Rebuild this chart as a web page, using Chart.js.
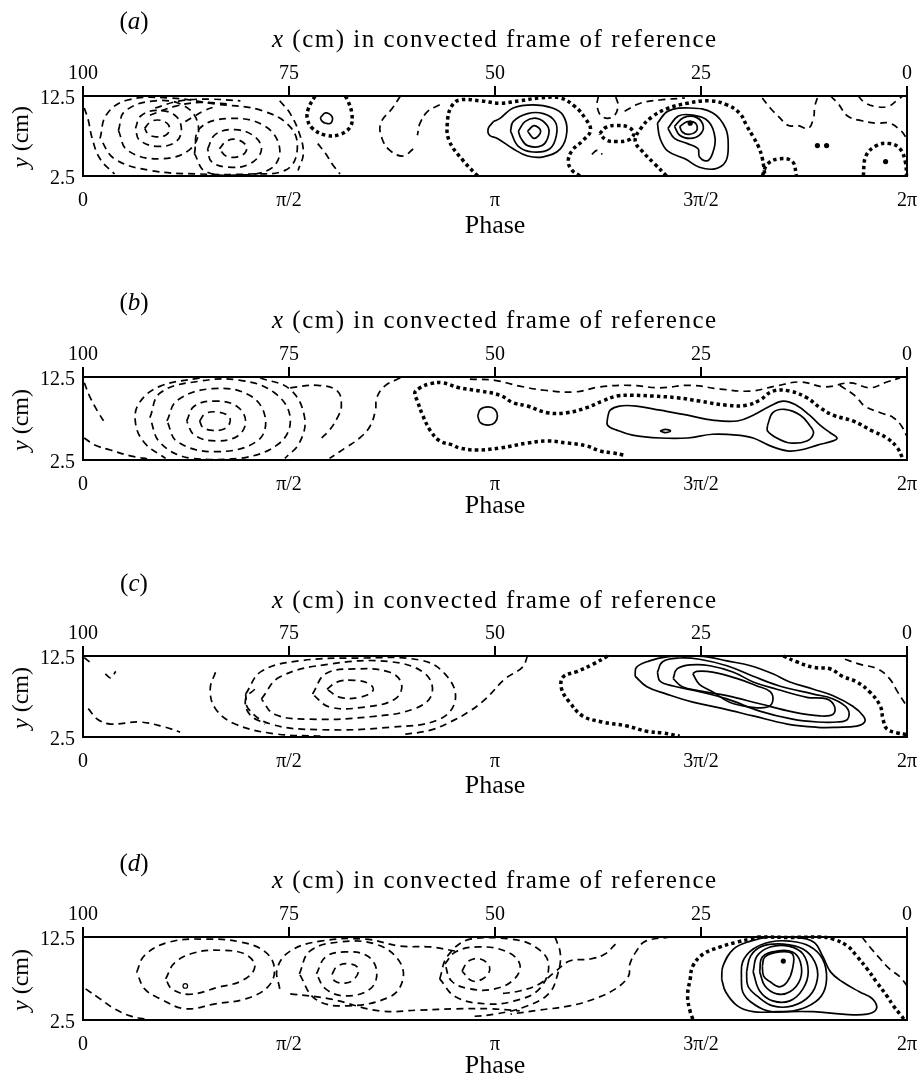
<!DOCTYPE html>
<html>
<head>
<meta charset="utf-8">
<script src="https://cdn.jsdelivr.net/npm/chart.js@4.4.1/dist/chart.umd.min.js"></script>
<style>
html, body { margin:0; padding:0; background:#fff; width:924px; height:1083px; overflow:hidden; }
.panel { position:absolute; left:0; width:924px; height:280px; }
.panel canvas { position:absolute; left:0; top:0; }
.lbl { position:absolute; font-family:'Liberation Serif','Times New Roman',serif; color:#000; white-space:nowrap; line-height:1; }
.letter { font-size:25px; transform:translate(-50%,-50%); }
.xtitle { font-size:25px; letter-spacing:1.5px; transform:translateY(-50%); }
.ytitle { font-size:24px; transform:translate(-50%,-50%) rotate(-90deg); }
</style>
</head>
<body>
<script>
// ---------------- axis ticks ----------------
const phaseTickValues = [0, 1.5708, 3.1416, 4.7124, 6.2832];
const phaseTickLabels = ['0', 'π/2', 'π', '3π/2', '2π'];
const xCmTickValues = [100, 75, 50, 25, 0];
const xCmTickLabels = ['100', '75', '50', '25', '0'];
const yTickValues = [2.5, 12.5];
const yTickLabels = ['2.5', '12.5'];
const panelLetters = ['a', 'b', 'c', 'd'];

// ---------------- contour data: [phase (rad), y (cm), ...] ----------------
// Panel (a)
const aPositiveLoops = [
  [3.13,9.3, 3.09,8.45, 3.10,7.6, 3.16,7.2, 3.28,5.9, 3.39,5.0, 3.51,4.9, 3.64,5.9, 3.69,8.1, 3.66,10.1, 3.58,11.0, 3.43,11.4, 3.28,11.0, 3.18,9.7],
  [3.26,8.1, 3.28,9.3, 3.39,10.3, 3.51,10.3, 3.60,9.3, 3.61,7.6, 3.56,5.9, 3.43,5.5, 3.32,6.2],
  [3.32,8.1, 3.37,9.3, 3.46,9.7, 3.54,8.8, 3.55,7.6, 3.50,6.3, 3.39,6.3, 3.34,7.2],
  [3.39,8.1, 3.44,8.8, 3.49,8.1, 3.44,7.2],
  [4.38,9.1, 4.46,10.6, 4.63,11.0, 4.80,10.4, 4.90,8.45, 4.92,6.2, 4.90,4.3, 4.82,3.4, 4.70,3.6, 4.59,4.65, 4.46,5.6, 4.40,7.2],
  [4.46,8.45, 4.54,10.0, 4.65,10.1, 4.77,9.3, 4.82,7.2, 4.80,5.3, 4.76,4.4, 4.70,4.9, 4.69,5.9, 4.61,6.55, 4.51,7.2],
  [4.51,8.7, 4.58,9.8, 4.68,9.8, 4.73,8.7, 4.70,7.6, 4.63,7.2, 4.55,7.6],
  [4.55,8.7, 4.61,9.3, 4.67,9.1, 4.68,8.2, 4.62,7.7, 4.57,8.0],
  [1.81,9.8, 1.85,10.4, 1.90,9.9, 1.89,9.1, 1.85,9.1, 1.82,9.4]
];
const aZeroLines = [
  [3.01,2.5, 2.90,4.4, 2.79,7.0, 2.78,9.5, 2.81,11.2, 2.87,12.0, 3.03,11.9, 3.18,11.6, 3.33,11.9, 3.48,12.25, 3.64,12.25, 3.75,11.2, 3.83,9.7, 3.87,8.2, 3.81,6.9, 3.73,5.7, 3.70,4.3, 3.73,3.2, 3.79,2.5],
  [4.45,2.5, 4.36,4.0, 4.27,5.5, 4.21,6.9, 4.26,8.6, 4.34,9.9, 4.45,10.9, 4.61,11.6, 4.78,11.9, 4.91,11.4, 5.01,10.3, 5.06,8.8, 5.11,7.4, 5.15,6.2, 5.18,4.7, 5.20,2.5],
  [5.18,2.5, 5.22,4.0, 5.31,4.65, 5.41,4.3, 5.44,2.5],
  [5.95,2.5, 5.97,5.0, 6.05,6.3, 6.15,6.55, 6.23,5.9, 6.27,4.3, 6.28,2.5],
  [1.77,12.5, 1.72,11.0, 1.71,9.7, 1.75,8.45, 1.85,7.6, 1.96,7.7, 2.04,8.7, 2.05,10.3, 2.02,11.9, 2.00,12.5]
];
const aZeroLoops = [
  [3.94,7.8, 3.99,8.6, 4.07,8.8, 4.16,8.6, 4.20,7.8, 4.16,7.0, 4.07,6.8, 3.99,7.0]
];
const aNegativeLoops = [
  [0.47,8.45, 0.51,9.2, 0.57,9.5, 0.64,9.1, 0.66,8.3, 0.63,7.6, 0.56,7.4, 0.50,7.7],
  [0.40,8.45, 0.44,10.0, 0.56,10.7, 0.70,10.1, 0.75,8.45, 0.71,6.8, 0.57,6.2, 0.43,7.0],
  [0.27,8.2, 0.32,10.6, 0.55,11.9, 0.78,11.2, 0.88,8.7, 0.82,5.9, 0.59,4.65, 0.34,5.7],
  [1.04,5.9, 1.09,6.8, 1.16,7.1, 1.24,6.4, 1.24,5.5, 1.18,4.9, 1.09,5.0],
  [0.95,5.9, 1.01,7.7, 1.16,8.3, 1.31,7.4, 1.36,5.7, 1.27,4.0, 1.11,3.6, 0.98,4.3],
  [0.85,5.3, 0.89,8.45, 1.12,9.7, 1.39,8.7, 1.50,5.9, 1.43,3.4, 1.16,2.6, 0.93,3.1],
  [0.13,7.2, 0.18,10.2, 0.34,12.0, 0.66,12.25, 1.01,11.5, 1.36,10.7, 1.59,8.45, 1.63,5.3, 1.54,3.2, 1.27,2.75, 0.89,2.75, 0.51,3.2, 0.24,4.65]
];
const aNegativeLines = [
  [0.01,11.0, 0.04,9.5, 0.07,7.2, 0.13,4.65, 0.24,2.75],
  [0.51,10.1, 0.70,11.2, 0.89,11.7, 1.12,11.5],
  [0.55,11.0, 0.74,11.9, 0.97,12.1, 1.20,11.9],
  [0.78,9.3, 0.85,10.0, 0.93,10.7, 1.01,11.2],
  [1.50,11.9, 1.58,10.3, 1.65,7.8, 1.68,5.3, 1.64,3.2],
  [1.79,6.55, 1.85,5.3, 1.90,4.0, 1.96,2.75],
  [2.42,12.5, 2.36,11.0, 2.27,9.1, 2.28,7.2, 2.34,5.7, 2.44,5.0, 2.52,5.9],
  [2.72,11.4, 2.63,10.6, 2.57,9.1, 2.55,7.6],
  [3.93,12.5, 3.92,11.2, 3.96,9.9, 4.04,9.9, 4.08,11.2, 4.06,12.5],
  [4.13,10.6, 4.25,11.6, 4.40,12.0, 4.59,12.25],
  [3.88,5.2, 3.92,5.7, 3.96,5.2],
  [5.18,12.25, 5.24,11.0, 5.30,10.0, 5.38,8.8, 5.45,8.8, 5.53,8.45, 5.57,9.7, 5.58,11.2, 5.60,12.25],
  [5.70,12.5, 5.76,11.5, 5.83,10.0, 5.94,9.4, 6.05,9.1, 6.15,9.1, 6.24,8.1, 6.28,7.2],
  [5.91,12.5, 5.96,11.7, 6.04,11.2, 6.14,11.2, 6.21,12.0, 6.25,12.5]
];
const aDots = [4.63,9.1, 6.12,4.3, 5.60,6.3, 5.67,6.3];
const aRings = [];

// Panel (b)
const bPositiveLoops = [
  [3.01,7.8, 3.03,8.6, 3.09,8.9, 3.14,8.6, 3.16,7.8, 3.14,7.0, 3.09,6.7, 3.03,7.0],
  [4.00,7.6, 4.02,8.5, 4.09,9.0, 4.22,9.0, 4.40,8.5, 4.61,7.9, 4.80,7.3, 4.99,7.2, 5.11,7.9, 5.24,9.0, 5.34,9.6, 5.44,9.1, 5.54,7.9, 5.62,6.7, 5.70,5.75, 5.75,5.15, 5.72,4.8, 5.60,4.3, 5.47,3.7, 5.37,3.6, 5.24,4.2, 5.11,5.15, 4.99,5.5, 4.80,5.6, 4.61,5.15, 4.40,5.15, 4.19,5.5, 4.07,6.1, 4.00,6.7],
  [5.22,6.7, 5.26,8.2, 5.35,8.6, 5.47,7.9, 5.54,6.7, 5.57,5.75, 5.52,4.8, 5.39,4.55, 5.29,5.15, 5.22,6.0],
  [4.40,6.0, 4.44,6.2, 4.48,6.0, 4.44,5.8]
];
const bZeroLines = [
  [4.12,3.1, 4.04,3.35, 3.94,3.6, 3.84,4.2, 3.69,4.55, 3.54,4.8, 3.39,4.55, 3.18,3.95, 3.00,3.7, 2.87,3.95, 2.82,4.3, 2.72,4.8, 2.65,6.0, 2.59,7.9, 2.55,9.6, 2.53,10.6, 2.57,11.2, 2.65,11.7, 2.74,11.8, 2.87,11.2, 3.03,10.8, 3.18,10.3, 3.28,9.4, 3.39,9.0, 3.54,8.2, 3.69,8.2, 3.84,8.8, 3.96,9.6, 4.07,10.2, 4.19,10.3, 4.35,10.2, 4.53,10.0, 4.70,9.6, 4.91,9.1, 5.06,9.1, 5.16,9.7, 5.26,10.8, 5.39,10.8, 5.52,10.0, 5.62,8.8, 5.72,7.9, 5.87,7.2, 6.02,6.0, 6.13,5.15, 6.21,3.95, 6.25,2.7]
];
const bZeroLoops = [];
const bNegativeLoops = [
  [0.89,7.2, 0.93,8.05, 1.01,8.3, 1.11,7.8, 1.12,7.0, 1.07,6.2, 0.97,6.1, 0.91,6.5],
  [0.79,7.2, 0.85,9.0, 1.01,9.6, 1.17,9.0, 1.24,7.2, 1.18,5.4, 1.01,4.8, 0.85,5.5],
  [0.64,7.2, 0.72,9.7, 0.99,11.1, 1.27,10.3, 1.39,7.6, 1.33,4.8, 1.01,3.5, 0.72,4.7],
  [0.51,7.6, 0.59,10.6, 0.89,12.0, 1.20,12.1, 1.46,10.6, 1.58,7.6, 1.50,4.55, 1.20,2.7, 0.82,2.7, 0.59,4.55]
];
const bNegativeLines = [
  [2.95,12.25, 3.14,12.1, 3.33,11.4, 3.52,10.9, 3.75,10.7, 3.94,11.3, 4.17,11.5, 4.40,11.2, 4.63,11.5, 4.86,11.05, 5.09,10.8, 5.28,11.4, 5.47,11.9, 5.66,11.3, 5.85,11.8, 6.00,11.2, 6.13,11.9, 6.23,12.4],
  [5.77,11.5, 5.89,10.2, 5.96,9.0, 6.08,8.2, 6.18,7.6, 6.25,6.4, 6.28,5.4],
  [0.89,12.4, 0.59,11.4, 0.43,9.4, 0.40,7.0, 0.47,4.55, 0.63,2.7],
  [1.35,12.4, 1.58,11.0, 1.69,7.6, 1.65,4.55, 1.54,2.7],
  [0.01,11.8, 0.05,10.2, 0.11,8.4, 0.17,6.9],
  [0.01,5.15, 0.09,4.3, 0.21,3.7, 0.36,3.0, 0.51,2.6],
  [1.58,11.2, 1.79,11.5, 1.94,10.8, 1.97,9.0, 1.94,7.6, 1.88,6.1, 1.82,5.15],
  [2.42,12.4, 2.30,11.4, 2.24,10.0, 2.23,8.5, 2.19,6.6, 2.11,5.15, 2.00,3.95, 1.88,2.7]
];
const bDots = [];
const bRings = [];

// Panel (c)
const cPositiveLoops = [
  [4.21,10.0, 4.22,11.1, 4.32,11.9, 4.45,12.4, 4.61,12.5, 4.76,12.4, 4.91,11.9, 5.09,11.3, 5.26,10.3, 5.39,9.3, 5.57,8.4, 5.72,7.6, 5.87,6.3, 5.95,5.1, 5.96,4.35, 5.90,3.85, 5.75,3.7, 5.60,3.7, 5.37,4.1, 5.11,5.1, 4.88,6.0, 4.65,6.8, 4.45,7.8, 4.30,8.7],
  [4.38,10.5, 4.42,11.8, 4.55,12.25, 4.70,12.1, 4.91,11.3, 5.11,10.0, 5.31,8.8, 5.57,7.8, 5.72,7.2, 5.83,6.0, 5.83,4.7, 5.75,4.35, 5.60,4.35, 5.41,4.7, 5.16,5.7, 4.91,7.2, 4.70,8.1, 4.50,8.8, 4.40,9.4],
  [4.50,9.7, 4.53,10.9, 4.63,11.4, 4.78,11.3, 4.96,10.5, 5.11,9.3, 5.29,8.4, 5.52,7.4, 5.67,7.2, 5.73,6.3, 5.72,5.3, 5.62,5.1, 5.41,5.6, 5.16,6.6, 4.91,7.6, 4.70,8.2, 4.57,8.7],
  [4.65,10.3, 4.68,10.6, 4.80,10.5, 4.99,9.7, 5.14,8.8, 5.24,8.1, 5.26,7.0, 5.22,6.2, 5.09,6.2, 4.93,6.8, 4.80,8.1, 4.70,9.0]
];
const cZeroLines = [
  [4.00,12.5, 3.89,11.5, 3.77,10.6, 3.66,9.9, 3.65,8.4, 3.71,6.8, 3.81,5.1, 3.96,4.35, 4.15,3.85, 4.30,3.2, 4.42,3.0, 4.55,2.6],
  [5.34,12.5, 5.44,11.8, 5.57,11.1, 5.70,10.9, 5.79,10.0, 5.90,9.3, 6.00,8.05, 6.08,6.3, 6.10,4.7, 6.13,3.5, 6.21,3.0, 6.28,2.8]
];
const cZeroLoops = [];
const cNegativeLoops = [
  [1.86,8.4, 1.94,9.3, 2.07,9.5, 2.19,9.0, 2.21,8.2, 2.11,7.4, 1.96,7.4],
  [1.75,7.8, 1.85,10.3, 2.07,10.9, 2.34,10.5, 2.43,9.0, 2.38,7.2, 2.15,6.2, 1.88,6.2],
  [1.36,7.2, 1.50,9.9, 1.88,11.5, 2.34,11.8, 2.61,10.3, 2.66,7.8, 2.53,6.0, 2.19,5.0, 1.73,4.7, 1.46,5.3],
  [1.24,7.8, 1.36,10.6, 1.65,11.9, 2.11,12.25, 2.57,12.0, 2.76,10.3, 2.84,7.2, 2.72,4.7, 2.34,3.7, 1.81,3.4, 1.43,4.1, 1.26,6.0]
];
const cNegativeLines = [
  [3.39,12.5, 3.35,11.1, 3.22,9.7, 3.07,7.2, 2.94,5.6, 2.80,4.35, 2.65,3.35, 2.42,2.75],
  [5.81,12.1, 5.92,11.5, 6.06,10.9, 6.15,9.7, 6.21,8.1, 6.27,6.6],
  [1.01,10.5, 0.97,8.4, 1.01,6.0, 1.16,4.1, 1.46,2.9, 1.81,2.6],
  [1.31,8.4, 1.24,7.2, 1.27,5.3, 1.39,4.1],
  [0.17,10.3, 0.21,9.8, 0.25,10.6],
  [0.04,6.0, 0.11,4.7, 0.21,4.1, 0.43,4.35, 0.63,3.7, 0.74,3.1],
  [0.01,12.3, 0.07,11.5]
];
const cDots = [];
const cRings = [];

// Panel (d)
const dPositiveLoops = [
  [4.87,7.45, 4.88,9.0, 4.96,11.05, 5.09,12.0, 5.24,12.5, 5.41,12.5, 5.57,11.9, 5.64,10.2, 5.70,8.3, 5.79,7.1, 5.92,5.9, 6.02,5.05, 6.05,3.85, 5.98,3.2, 5.79,3.2, 5.57,3.5, 5.29,3.5, 5.11,3.5, 4.99,4.2, 4.90,5.9],
  [5.02,7.45, 5.03,9.5, 5.11,11.05, 5.24,11.9, 5.39,12.0, 5.54,11.4, 5.64,9.85, 5.67,7.45, 5.63,5.4, 5.52,4.1, 5.37,3.5, 5.22,3.6, 5.09,4.7, 5.03,5.9],
  [5.06,8.3, 5.09,10.2, 5.18,11.4, 5.34,11.65, 5.49,11.05, 5.58,9.5, 5.60,7.45, 5.54,5.4, 5.41,4.2, 5.26,4.2, 5.14,5.4, 5.07,6.6],
  [5.11,8.3, 5.14,10.2, 5.24,11.3, 5.38,11.4, 5.49,10.45, 5.53,8.3, 5.49,6.25, 5.39,4.8, 5.26,4.8, 5.16,6.0],
  [5.16,8.3, 5.18,10.1, 5.29,10.8, 5.41,10.7, 5.47,9.5, 5.47,7.45, 5.39,5.9, 5.29,5.65, 5.20,6.6],
  [5.18,9.0, 5.20,10.1, 5.31,10.7, 5.41,10.45, 5.41,8.65, 5.37,7.1, 5.31,6.5, 5.24,7.1, 5.19,7.8]
];
const dZeroLines = [
  [4.65,2.6, 4.63,3.5, 4.61,5.4, 4.63,7.45, 4.65,9.0, 4.73,10.45, 4.86,11.3, 4.99,11.9, 5.09,12.25, 5.16,12.5, 5.39,12.45, 5.62,12.5, 5.72,12.25, 5.83,11.4, 5.90,10.2, 5.98,8.65, 6.05,7.1, 6.13,5.4, 6.18,4.2, 6.23,3.2, 6.26,2.6]
];
const dZeroLoops = [];
const dNegativeLoops = [
  [0.63,7.45, 0.70,9.4, 0.85,10.6, 1.05,10.9, 1.24,10.4, 1.31,8.9, 1.22,7.3, 1.02,6.4, 0.82,5.6, 0.68,6.2],
  [0.41,8.3, 0.47,10.3, 0.66,11.9, 0.93,12.25, 1.20,11.9, 1.39,10.7, 1.46,8.65, 1.41,6.5, 1.24,5.05, 1.01,4.45, 0.78,3.85, 0.59,5.05, 0.47,6.25],
  [1.90,8.05, 1.94,9.0, 2.04,9.25, 2.10,8.65, 2.07,7.45, 2.00,6.95, 1.92,7.2],
  [1.78,8.05, 1.85,10.1, 2.00,10.7, 2.17,10.2, 2.24,8.3, 2.19,6.25, 2.00,5.4, 1.85,6.25],
  [1.65,8.05, 1.73,10.8, 1.96,11.9, 2.23,11.65, 2.40,9.85, 2.44,7.45, 2.34,5.3, 2.00,4.2, 1.77,5.05],
  [2.89,8.4, 2.94,9.6, 3.03,9.85, 3.10,8.9, 3.07,7.7, 2.97,7.2],
  [2.76,9.25, 2.84,10.7, 3.01,11.3, 3.22,10.8, 3.33,9.25, 3.29,7.45, 3.14,6.25, 2.95,6.25, 2.81,7.2],
  [2.72,7.45, 2.78,10.2, 2.95,12.25, 3.26,12.25, 3.45,11.3, 3.55,9.25, 3.48,6.25, 3.29,4.8, 3.07,4.45, 2.84,5.3]
];
const dNegativeLines = [
  [5.94,12.5, 6.00,11.3, 6.08,9.85, 6.15,8.65, 6.23,7.7, 6.28,6.7],
  [4.48,12.5, 4.29,12.0, 4.22,10.8, 4.17,9.25, 4.16,7.8, 4.06,6.25, 3.90,5.05, 3.71,4.2, 3.48,3.7, 3.26,3.2],
  [4.06,11.65, 3.98,10.45, 3.87,9.85, 3.71,9.6, 3.60,8.3, 3.48,6.85, 3.33,6.0, 3.18,5.65],
  [0.02,6.25, 0.13,5.05, 0.24,3.85, 0.36,3.0, 0.51,2.5],
  [1.50,6.25, 1.48,8.65, 1.58,10.8, 1.81,12.0, 2.15,12.25, 2.42,11.4, 2.65,11.3, 2.84,10.8],
  [1.58,5.65, 1.88,5.05, 2.26,3.6, 2.57,3.7, 2.84,3.85, 3.10,3.85, 3.33,3.6],
  [3.60,12.5, 3.64,10.45, 3.62,8.05, 3.55,5.65, 3.37,4.1, 3.14,3.2, 2.95,2.9]
];
const dDots = [5.34,9.6];
const dRings = [0.78,6.6];

// ---------------- chart construction ----------------
const SERIF = "'Liberation Serif', 'Times New Roman', serif";
const PANELS = [
  {boxTop:96, boxBottom:176, letterY:20, titleY:38, pos:aPositiveLoops, zLines:aZeroLines, zLoops:aZeroLoops, nLoops:aNegativeLoops, nLines:aNegativeLines, dots:aDots, rings:aRings},
  {boxTop:97, boxBottom:180, letterY:21, titleY:39, pos:bPositiveLoops, zLines:bZeroLines, zLoops:bZeroLoops, nLoops:bNegativeLoops, nLines:bNegativeLines, dots:bDots, rings:bRings},
  {boxTop:96, boxBottom:177, letterY:22, titleY:39, pos:cPositiveLoops, zLines:cZeroLines, zLoops:cZeroLoops, nLoops:cNegativeLoops, nLines:cNegativeLines, dots:cDots, rings:cRings},
  {boxTop:97, boxBottom:180, letterY:22, titleY:39, pos:dPositiveLoops, zLines:dZeroLines, zLoops:dZeroLoops, nLoops:dNegativeLoops, nLines:dNegativeLines, dots:dDots, rings:dRings}
];
const LINE_STYLES = {
  positive: {borderWidth:1.7, borderDash:[]},
  zero: {borderWidth:3.5, borderDash:[3.5, 3.2]},
  negative: {borderWidth:1.7, borderDash:[7, 5]}
};

function toPoints(flat, close) {
  const pts = [];
  for (let i = 0; i < flat.length; i += 2) pts.push({x: flat[i], y: flat[i + 1]});
  if (close && pts.length) pts.push({x: flat[0], y: flat[1]});
  return pts;
}
function contourSets(list, kind, close) {
  return list.map(flat => ({
    type: 'line',
    data: toPoints(flat, close),
    borderColor: '#000',
    borderWidth: LINE_STYLES[kind].borderWidth,
    borderDash: LINE_STYLES[kind].borderDash,
    borderCapStyle: 'butt',
    pointRadius: 0, pointHoverRadius: 0,
    fill: false, tension: 0.4, clip: 2
  }));
}
function dotSet(flat, hollow) {
  return {
    type: 'line', showLine: false, data: toPoints(flat, false),
    pointRadius: hollow ? 2.3 : 2.6, pointBorderWidth: hollow ? 1.2 : 0,
    pointBorderColor: '#000', pointBackgroundColor: hollow ? '#fff' : '#000', clip: 2
  };
}

const boxPlugin = {
  id: 'frameBox',
  afterDatasetsDraw(chart) {
    const {ctx, chartArea: a} = chart;
    ctx.save();
    ctx.strokeStyle = '#000';
    ctx.lineWidth = 2;
    ctx.strokeRect(a.left, a.top, a.right - a.left, a.bottom - a.top);
    ctx.restore();
  }
};

PANELS.forEach((P, i) => {
  const wrap = document.createElement('div');
  wrap.className = 'panel';
  wrap.style.top = (i * 280) + 'px';
  document.body.appendChild(wrap);
  const cv = document.createElement('canvas');
  cv.width = 924; cv.height = 280;
  wrap.appendChild(cv);

  const letter = document.createElement('div');
  letter.className = 'lbl letter';
  letter.innerHTML = '(<i>' + panelLetters[i] + '</i>)';
  letter.style.left = '134px'; letter.style.top = P.letterY + 'px';
  wrap.appendChild(letter);

  const xt = document.createElement('div');
  xt.className = 'lbl xtitle';
  xt.innerHTML = '<i>x</i> (cm) in convected frame of reference';
  xt.style.left = '272px'; xt.style.top = P.titleY + 'px';
  wrap.appendChild(xt);

  const yt = document.createElement('div');
  yt.className = 'lbl ytitle';
  yt.innerHTML = '<i>y</i> (cm)';
  yt.style.left = '20px'; yt.style.top = ((P.boxTop + P.boxBottom) / 2 + 1) + 'px';
  wrap.appendChild(yt);

  const datasets = [].concat(
    contourSets(P.nLoops, 'negative', true),
    contourSets(P.nLines, 'negative', false),
    contourSets(P.zLoops, 'zero', true),
    contourSets(P.zLines, 'zero', false),
    contourSets(P.pos, 'positive', true)
  );
  if (P.dots.length) datasets.push(dotSet(P.dots, false));
  if (P.rings.length) datasets.push(dotSet(P.rings, true));

  const tickFont = {family: SERIF, size: 20};
  new Chart(cv, {
    type: 'line',
    data: {datasets},
    options: {
      responsive: false, animation: false, devicePixelRatio: 1,
      layout: {padding: {left: 0, right: 17, top: 0, bottom: 0}},
      plugins: {legend: {display: false}, tooltip: {enabled: false}},
      events: [],
      scales: {
        x: {
          type: 'linear', position: 'bottom', min: 0, max: 6.2832,
          afterBuildTicks: s => { s.ticks = phaseTickValues.map(v => ({value: v})); },
          afterFit: s => { s.height = 280 - P.boxBottom; },
          ticks: {autoSkip: false, maxRotation: 0, padding: 5, color: '#000',
                  font: {family: SERIF, size: 20, lineHeight: 2.0},
                  callback: (v, idx) => phaseTickLabels[idx]},
          grid: {display: false, drawTicks: false},
          border: {display: false},
          title: {display: true, text: 'Phase', color: '#000', font: {family: SERIF, size: 26},
                  padding: {top: 0, bottom: 38}}
        },
        xTop: {
          type: 'linear', position: 'top', min: 0, max: 100, reverse: true,
          afterBuildTicks: s => { s.ticks = xCmTickValues.map(v => ({value: v})); },
          afterFit: s => { s.height = P.boxTop; },
          ticks: {autoSkip: false, maxRotation: 0, padding: 0, color: '#000', font: tickFont,
                  callback: (v, idx) => xCmTickLabels[idx]},
          grid: {display: true, drawOnChartArea: false, drawTicks: true, tickLength: 10, color: '#000', lineWidth: 2},
          border: {display: false}
        },
        y: {
          type: 'linear', position: 'left', min: 2.5, max: 12.5,
          afterBuildTicks: s => { s.ticks = yTickValues.map(v => ({value: v})); },
          afterFit: s => { s.width = 83; },
          ticks: {autoSkip: false, padding: 8, labelOffset: 3, color: '#000', font: tickFont,
                  callback: (v, idx) => yTickLabels[idx]},
          grid: {display: false, drawTicks: false},
          border: {display: false}
        }
      }
    },
    plugins: [boxPlugin]
  });
});
</script>
</body>
</html>
